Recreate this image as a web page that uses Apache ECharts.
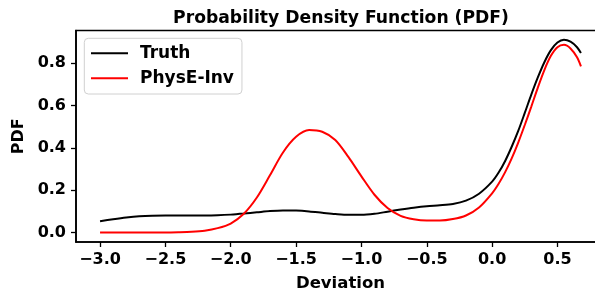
<!DOCTYPE html>
<html>
<head>
<meta charset="utf-8">
<script src="https://cdn.jsdelivr.net/npm/echarts@6/dist/echarts.min.js"></script>
<style>html,body{margin:0;padding:0;background:#fff}#c{width:595px;height:291px}</style>
</head>
<body>
<div id="c"></div>
<script>
var titleText = 'Probability Density Function (PDF)';
var xLabel = 'Deviation';
var yLabel = 'PDF';
var seriesNames = ['Truth', 'PhysE-Inv'];
var xTicks = [-3.0, -2.5, -2.0, -1.5, -1.0, -0.5, 0.0, 0.5];
var yTicks = [0.0, 0.2, 0.4, 0.6, 0.8];

var truthX = [-3.0,-2.9,-2.8,-2.7,-2.6,-2.5,-2.4,-2.3,-2.2,-2.1,-2.0,-1.9,-1.8,-1.7,-1.6,-1.5,-1.4,-1.3,-1.2,-1.1,-1.0,-0.9,-0.8,-0.7,-0.6,-0.5,-0.4,-0.3,-0.2,-0.1,0.0,0.05,0.1,0.15,0.2,0.25,0.3,0.35,0.4,0.45,0.5,0.55,0.6,0.65,0.68];
var truthY = [0.053,0.062,0.070,0.076,0.079,0.080,0.080,0.080,0.080,0.081,0.084,0.089,0.095,0.101,0.104,0.103,0.099,0.093,0.087,0.083,0.083,0.088,0.098,0.108,0.117,0.124,0.128,0.134,0.150,0.183,0.240,0.283,0.338,0.405,0.480,0.565,0.652,0.733,0.805,0.862,0.898,0.911,0.902,0.876,0.848];

var predX = [-3.0,-2.9,-2.8,-2.7,-2.6,-2.5,-2.4,-2.3,-2.2,-2.1,-2.0,-1.9,-1.8,-1.7,-1.6,-1.5,-1.4,-1.3,-1.2,-1.1,-1.0,-0.9,-0.8,-0.7,-0.6,-0.5,-0.4,-0.3,-0.2,-0.1,0.0,0.05,0.1,0.15,0.2,0.25,0.3,0.35,0.4,0.45,0.5,0.55,0.6,0.65,0.68];
var predY = [0.0,0.0,0.0,0.0,0.0,0.0,0.001,0.003,0.008,0.020,0.042,0.088,0.165,0.270,0.378,0.452,0.484,0.476,0.437,0.357,0.265,0.178,0.115,0.078,0.062,0.056,0.056,0.063,0.080,0.118,0.185,0.230,0.285,0.350,0.425,0.508,0.595,0.685,0.768,0.835,0.876,0.887,0.870,0.828,0.785];

function zip(a, b) { return a.map(function (v, i) { return [v, b[i]]; }); }
var FONT = 'DejaVu Sans';
function fmt(v) { return v.toFixed(1).replace('-', '\u2212'); }

var chart = echarts.init(document.getElementById('c'), null, { renderer: 'canvas' });
chart.setOption({
  animation: false,
  backgroundColor: '#fff',
  title: {
    text: titleText, left: 336, top: 5, textAlign: 'center',
    textStyle: { fontFamily: FONT, fontWeight: 'bold', fontSize: 17.2, color: '#000' }
  },
  grid: { left: 76, top: 30.5, bottom: 49, right: -10, outerBoundsMode: 'none', containLabel: false, show: true, borderColor: '#000', borderWidth: 1.6, backgroundColor: 'transparent' },
  legend: {
    orient: 'vertical', left: 84.3, top: 38.3,
    padding: [2.5, 8, 3.2, 6.7],
    borderColor: '#d0d0d0', borderWidth: 1, borderRadius: 4, backgroundColor: 'rgba(255,255,255,0.8)',
    icon: 'rect', itemWidth: 37, itemHeight: 2, itemGap: 0,
    itemStyle: { borderWidth: 0 },
    textStyle: { fontFamily: FONT, fontWeight: 'bold', fontSize: 17, color: '#000', lineHeight: 25, padding: [0, 0, 0, 7] },
    data: seriesNames
  },
  xAxis: {
    type: 'value', min: -3.184, max: 0.864,
    name: xLabel, nameLocation: 'middle', nameGap: 33,
    nameTextStyle: { fontFamily: FONT, fontWeight: 'bold', fontSize: 16.5, color: '#000' },
    splitLine: { show: false },
    axisLine: { show: true, onZero: false, lineStyle: { color: '#000', width: 1.6 } },
    axisTick: { show: true, length: 5, customValues: xTicks, lineStyle: { color: '#000', width: 1.3 } },
    axisLabel: { customValues: xTicks, margin: 10, formatter: fmt, fontFamily: FONT, fontWeight: 'bold', fontSize: 16, color: '#000' }
  },
  yAxis: {
    type: 'value', min: -0.0455, max: 0.955,
    name: yLabel, nameLocation: 'middle', nameGap: 41, nameRotate: 90,
    nameTextStyle: { fontFamily: FONT, fontWeight: 'bold', fontSize: 16, color: '#000' },
    splitLine: { show: false },
    axisLine: { show: true, onZero: false, lineStyle: { color: '#000', width: 1.6 } },
    axisTick: { show: true, length: 5, customValues: yTicks, lineStyle: { color: '#000', width: 1.3 } },
    axisLabel: { customValues: yTicks, margin: 10, formatter: fmt, fontFamily: FONT, fontWeight: 'bold', fontSize: 16, color: '#000' }
  },
  series: [
    { name: seriesNames[0], type: 'line', data: zip(truthX, truthY), smooth: 0.3, symbol: 'none', color: '#000', lineStyle: { color: '#000', width: 2 } },
    { name: seriesNames[1], type: 'line', data: zip(predX, predY), smooth: 0.3, symbol: 'none', color: '#ff0000', lineStyle: { color: '#ff0000', width: 2 } }
  ]
});
</script>
</body>
</html>
